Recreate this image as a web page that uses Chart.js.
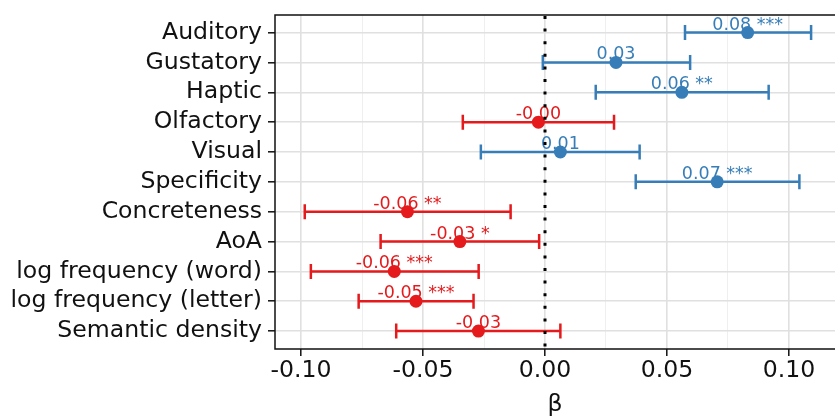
<!DOCTYPE html>
<html lang="en">
<head>
  <meta charset="UTF-8">
  <title>Coefficient plot</title>
  <script src="https://cdn.jsdelivr.net/npm/chart.js"></script>
  <style>
    html, body {
      margin: 0;
      padding: 0;
      background: #fff;
      overflow: hidden;
    }
    #wrap {
      width: 835px;
      height: 420px;
    }
  </style>
</head>
<body>
  <div id="wrap"><canvas id="forest"></canvas></div>

  <script>
    // predictors, top to bottom
    const categories = ['Auditory', 'Gustatory', 'Haptic', 'Olfactory', 'Visual', 'Specificity',
      'Concreteness', 'AoA', 'log frequency (word)', 'log frequency (letter)', 'Semantic density'];
    const estimates = [0.0831, 0.0291, 0.0561, -0.0027, 0.0063, 0.0706, -0.0564, -0.0349, -0.0618, -0.0529, -0.0273];
    const lower = [0.0574, -0.0009, 0.0208, -0.0337, -0.0263, 0.0372, -0.0985, -0.0674, -0.0960, -0.0764, -0.0610];
    const upper = [0.1091, 0.0595, 0.0917, 0.0283, 0.0388, 0.1043, -0.0141, -0.0024, -0.0272, -0.0293, 0.0063];
    const stars = ['***', '', '**', '', '', '***', '**', '*', '***', '***', ''];
    const xTicks = [-0.1, -0.075, -0.05, -0.025, 0, 0.025, 0.05, 0.075, 0.1];

    const BLUE = '#377eb8';
    const RED = '#e41a1c';
    const INK = '#111';
    const FONT = '"DejaVu Sans", sans-serif';
    const colorOf = v => (v >= 0 ? BLUE : RED);

    const errorBars = {
      id: 'errorBars',
      // the panel runs off the right edge of the canvas, like the original
      afterLayout(chart) {
        const a = chart.chartArea;
        const gap = chart.width - a.right;
        if (gap > 0) {
          const xs = chart.scales.x;
          a.right += gap;
          a.width += gap;
          xs.right += gap;
          xs.width += gap;
          xs.configure();
        }
      },
      // whiskers + value labels, drawn under the points
      beforeDatasetsDraw(chart) {
        const ctx = chart.ctx;
        const xs = chart.scales.x, ys = chart.scales.y;
        ctx.save();
        categories.forEach((c, i) => {
          const y = ys.getPixelForValue(i);
          const x0 = xs.getPixelForValue(lower[i]);
          const x1 = xs.getPixelForValue(upper[i]);
          ctx.strokeStyle = colorOf(estimates[i]);
          ctx.lineWidth = 2.5;
          ctx.beginPath();
          ctx.moveTo(x0, y); ctx.lineTo(x1, y);
          ctx.moveTo(x0, y - 7.5); ctx.lineTo(x0, y + 7.5);
          ctx.moveTo(x1, y - 7.5); ctx.lineTo(x1, y + 7.5);
          ctx.stroke();

          const txt = estimates[i].toFixed(2) + (stars[i] ? ' ' + stars[i] : '');
          ctx.fillStyle = colorOf(estimates[i]);
          ctx.font = '17.5px ' + FONT;
          ctx.textAlign = 'center';
          ctx.textBaseline = 'alphabetic';
          ctx.fillText(txt, xs.getPixelForValue(estimates[i]), y - 3);
        });
        ctx.restore();
      },
      afterDatasetsDraw(chart) {
        const ctx = chart.ctx;
        const a = chart.chartArea;
        const x = chart.scales.x.getPixelForValue(0);
        ctx.save();
        // dotted zero line
        ctx.strokeStyle = '#000';
        ctx.lineWidth = 3;
        ctx.setLineDash([3, 9.6]);
        ctx.beginPath();
        ctx.moveTo(x, a.top + 1);
        ctx.lineTo(x, a.bottom);
        ctx.stroke();
        // frame: top, left, bottom
        ctx.setLineDash([]);
        ctx.lineWidth = 1.5;
        ctx.strokeStyle = INK;
        ctx.beginPath();
        ctx.moveTo(a.right + 2, a.top);
        ctx.lineTo(a.left, a.top);
        ctx.lineTo(a.left, a.bottom);
        ctx.lineTo(a.right + 2, a.bottom);
        ctx.stroke();
        ctx.restore();
      }
    };

    new Chart(document.getElementById('forest'), {
      type: 'scatter',
      data: {
        datasets: [{
          data: estimates.map((v, i) => ({ x: v, y: i })),
          backgroundColor: estimates.map(colorOf),
          borderWidth: 0,
          pointRadius: 6.5
        }]
      },
      options: {
        responsive: true,
        maintainAspectRatio: false,
        animation: false,
        layout: { padding: { top: 15, right: 0, left: 0, bottom: 0 } },
        plugins: {
          legend: { display: false },
          tooltip: { enabled: false }
        },
        scales: {
          x: {
            type: 'linear',
            min: -0.1107,
            max: 0.1189,
            afterBuildTicks: s => { s.ticks = xTicks.map(v => ({ value: v })); },
            afterFit: s => { s.height = 71; },
            ticks: {
              color: INK,
              font: { family: FONT, size: 23.6 },
              padding: 1,
              maxRotation: 0,
              autoSkip: false,
              callback: (v, i) => (i % 2 === 0 ? xTicks[i].toFixed(2) : '')
            },
            grid: {
              color: c => (c.index % 2 === 0 ? '#e0e0e0' : '#efefef'),
              lineWidth: c => (c.index % 2 === 0 ? 1.6 : 1),
              tickColor: c => (c.index % 2 === 0 ? INK : 'rgba(0,0,0,0)'),
              tickLength: 7,
              tickWidth: 1.5
            },
            border: { display: false },
            title: {
              display: true,
              text: 'β',
              color: INK,
              font: { family: FONT, size: 23.6 },
              padding: { top: 0, bottom: 1 }
            }
          },
          y: {
            type: 'linear',
            min: -0.59,
            max: 10.6,
            reverse: true,
            afterBuildTicks: s => { s.ticks = categories.map((c, i) => ({ value: i })); },
            afterFit: s => {
              s.width = 275;
              s.paddingTop = 0;
              s.paddingBottom = 0;
            },
            ticks: {
              color: INK,
              font: { family: FONT, size: 23.6 },
              padding: 6,
              autoSkip: false,
              callback: (v, i) => categories[i]
            },
            grid: {
              color: '#e0e0e0',
              lineWidth: 1.6,
              tickColor: INK,
              tickLength: 7,
              tickWidth: 1.5
            },
            border: { display: false }
          }
        }
      },
      plugins: [errorBars]
    });
  </script>
</body>
</html>
